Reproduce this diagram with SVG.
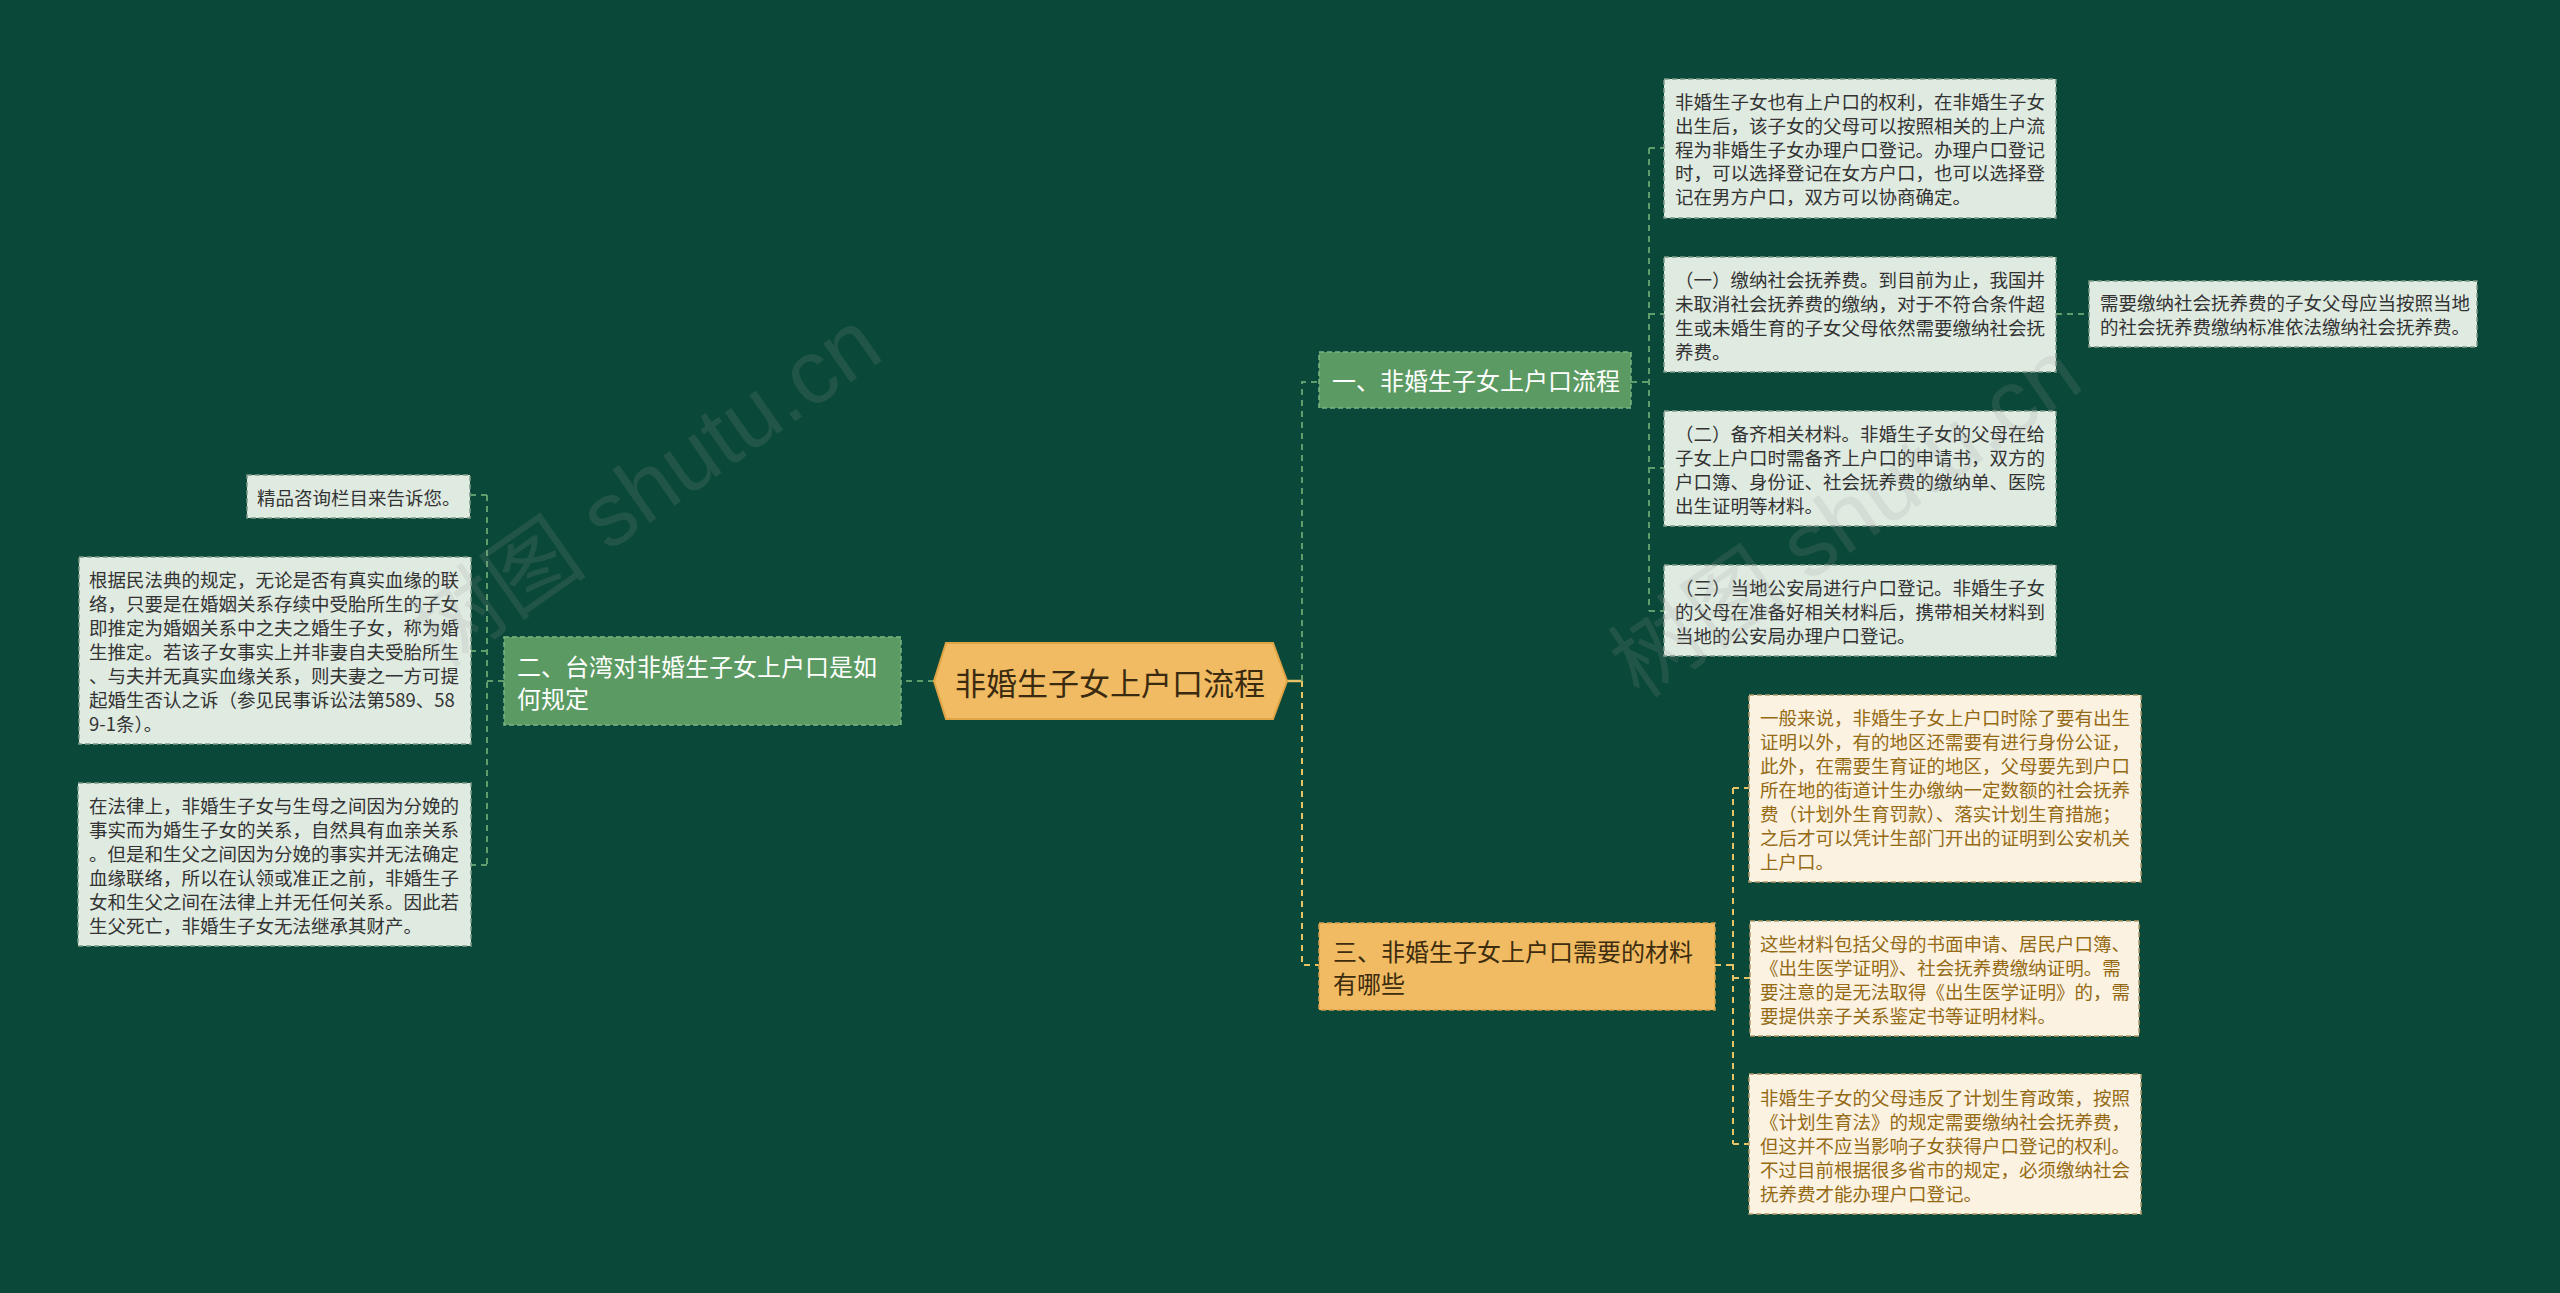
<svg xmlns="http://www.w3.org/2000/svg" width="2560" height="1293" viewBox="0 0 2560 1293">
<style>
text{font-family:"Noto Sans CJK SC","Noto Sans",sans-serif;}
.bg{fill:#0a4839;}
.leaf{fill:#dfeae1;stroke:#7f9a88;stroke-width:1.5;stroke-dasharray:5 3;}
.leaft{font-size:18.5px;fill:#333333;dominant-baseline:central;}
.yleaf{fill:#fcf2e2;stroke:#b09a6a;stroke-width:1.5;stroke-dasharray:5 3;}
.yleaft{font-size:18.5px;fill:#946a14;dominant-baseline:central;}
.gbr{fill:#5b9a62;stroke:#7cb583;stroke-width:1.5;stroke-dasharray:5 3;}
.gbrt{font-size:24px;fill:#ffffff;dominant-baseline:central;}
.ybr{fill:#f0bb62;stroke:#d7a14a;stroke-width:1.5;stroke-dasharray:5 3;}
.ybrt{font-size:24px;fill:#3d2c0e;dominant-baseline:central;}
.gc{fill:none;stroke:#5f9e6c;stroke-width:2;stroke-dasharray:6 5;}
.yc{fill:none;stroke:#e6c465;stroke-width:2;stroke-dasharray:6 5;}
.wm{font-family:"Liberation Sans","Noto Sans CJK SC",sans-serif;font-size:90px;fill:#9a9a9a;opacity:0.16;}
</style>
<rect class="bg" x="0" y="0" width="2560" height="1293"/>

<g id="connectors">
  <line x1="934" y1="681" x2="901" y2="681" class="gc"/>
  <path class="gc" d="M504 681 H487 M487 495 V865 M487 495 H471 M487 651 H471 M487 865 H471"/>
  <line x1="1287" y1="681" x2="1302" y2="681" stroke="#e6c465" stroke-width="2.5"/>
  <path class="gc" d="M1302 681 V382 H1319"/>
  <path class="yc" d="M1302 681 V965 H1319"/>
  <path class="gc" d="M1631 382 H1649 M1649 148 V611 M1649 148 H1664 M1649 314 H1664 M1649 468 H1664 M1649 611 H1664 M2056 314 H2089"/>
  <path class="yc" d="M1715 965 H1733 M1733 788 V1144 M1733 788 H1749 M1733 978 H1750 M1733 1144 H1749"/>
</g>

<g id="root">
  <polygon points="934,681 946,643 1273,643 1287,681 1273,719 946,719" fill="#f0bb62" stroke="#e0a445" stroke-width="2"/>
  <text x="1110" y="681" text-anchor="middle" font-size="31" fill="#3a2a10" dominant-baseline="central">非婚生子女上户口流程</text>
</g>

<g id="b1">
  <rect class="gbr" x="1319" y="352" width="312" height="56"/>
  <text class="gbrt" x="1332" y="379">一、非婚生子女上户口流程</text>
</g>

<g id="b2">
  <rect class="gbr" x="504" y="637" width="397" height="88"/>
  <text class="gbrt" x="517"><tspan x="517" y="665">二、台湾对非婚生子女上户口是如</tspan><tspan x="517" y="697">何规定</tspan></text>
</g>

<g id="b3">
  <rect class="ybr" x="1319" y="923" width="396" height="87"/>
  <text class="ybrt" x="1333"><tspan x="1333" y="950">三、非婚生子女上户口需要的材料</tspan><tspan x="1333" y="982">有哪些</tspan></text>
</g>

<g id="c1">
  <rect class="leaf" x="1664" y="79" width="392" height="139"/>
  <text class="leaft"><tspan x="1675" y="101">非婚生子女也有上户口的权利，在非婚生子女</tspan><tspan x="1675" y="125">出生后，该子女的父母可以按照相关的上户流</tspan><tspan x="1675" y="148.5">程为非婚生子女办理户口登记。办理户口登记</tspan><tspan x="1675" y="172">时，可以选择登记在女方户口，也可以选择登</tspan><tspan x="1675" y="196">记在男方户口，双方可以协商确定。</tspan></text>
</g>

<g id="c2">
  <rect class="leaf" x="1664" y="257" width="392" height="115"/>
  <text class="leaft"><tspan x="1675" y="279">（一）缴纳社会抚养费。到目前为止，我国并</tspan><tspan x="1675" y="303">未取消社会抚养费的缴纳，对于不符合条件超</tspan><tspan x="1675" y="327">生或未婚生育的子女父母依然需要缴纳社会抚</tspan><tspan x="1675" y="351">养费。</tspan></text>
</g>

<g id="c2a">
  <rect class="leaf" x="2089" y="281" width="388" height="66"/>
  <text class="leaft"><tspan x="2100" y="302">需要缴纳社会抚养费的子女父母应当按照当地</tspan><tspan x="2100" y="326">的社会抚养费缴纳标准依法缴纳社会抚养费。</tspan></text>
</g>

<g id="c3">
  <rect class="leaf" x="1664" y="411" width="392" height="115"/>
  <text class="leaft"><tspan x="1675" y="433">（二）备齐相关材料。非婚生子女的父母在给</tspan><tspan x="1675" y="457">子女上户口时需备齐上户口的申请书，双方的</tspan><tspan x="1675" y="481">户口簿、身份证、社会抚养费的缴纳单、医院</tspan><tspan x="1675" y="505">出生证明等材料。</tspan></text>
</g>

<g id="c4">
  <rect class="leaf" x="1664" y="565" width="392" height="91"/>
  <text class="leaft"><tspan x="1675" y="587">（三）当地公安局进行户口登记。非婚生子女</tspan><tspan x="1675" y="611">的父母在准备好相关材料后，携带相关材料到</tspan><tspan x="1675" y="635">当地的公安局办理户口登记。</tspan></text>
</g>

<g id="c5">
  <rect class="yleaf" x="1749" y="695" width="392" height="187"/>
  <text class="yleaft"><tspan x="1760" y="716.5">一般来说，非婚生子女上户口时除了要有出生</tspan><tspan x="1760" y="740.5">证明以外，有的地区还需要有进行身份公证，</tspan><tspan x="1760" y="764.5">此外，在需要生育证的地区，父母要先到户口</tspan><tspan x="1760" y="788.5">所在地的街道计生办缴纳一定数额的社会抚养</tspan><tspan x="1760" y="812.5">费（计划外生育罚款）、落实计划生育措施；</tspan><tspan x="1760" y="836.5">之后才可以凭计生部门开出的证明到公安机关</tspan><tspan x="1760" y="860.5">上户口。</tspan></text>
</g>

<g id="c6">
  <rect class="yleaf" x="1750" y="921" width="389" height="115"/>
  <text class="yleaft"><tspan x="1760" y="943">这些材料包括父母的书面申请、居民户口簿、</tspan><tspan x="1760" y="967">《出生医学证明》、社会抚养费缴纳证明。需</tspan><tspan x="1760" y="991">要注意的是无法取得《出生医学证明》的，需</tspan><tspan x="1760" y="1015">要提供亲子关系鉴定书等证明材料。</tspan></text>
</g>

<g id="c7">
  <rect class="yleaf" x="1749" y="1074" width="392" height="140"/>
  <text class="yleaft"><tspan x="1760" y="1097">非婚生子女的父母违反了计划生育政策，按照</tspan><tspan x="1760" y="1121">《计划生育法》的规定需要缴纳社会抚养费，</tspan><tspan x="1760" y="1145">但这并不应当影响子女获得户口登记的权利。</tspan><tspan x="1760" y="1169">不过目前根据很多省市的规定，必须缴纳社会</tspan><tspan x="1760" y="1193">抚养费才能办理户口登记。</tspan></text>
</g>

<g id="l1">
  <rect class="leaf" x="247" y="475" width="223" height="43"/>
  <text class="leaft" x="257" y="497">精品咨询栏目来告诉您。</text>
</g>

<g id="l2">
  <rect class="leaf" x="79" y="557" width="392" height="187"/>
  <text class="leaft"><tspan x="89" y="579">根据民法典的规定，无论是否有真实血缘的联</tspan><tspan x="89" y="603">络，只要是在婚姻关系存续中受胎所生的子女</tspan><tspan x="89" y="627">即推定为婚姻关系中之夫之婚生子女，称为婚</tspan><tspan x="89" y="651">生推定。若该子女事实上并非妻自夫受胎所生</tspan><tspan x="89" y="675">、与夫并无真实血缘关系，则夫妻之一方可提</tspan><tspan x="89" y="699">起婚生否认之诉（参见民事诉讼法第589、58</tspan><tspan x="89" y="723">9-1条）。</tspan></text>
</g>

<g id="l3">
  <rect class="leaf" x="78" y="783" width="393" height="163"/>
  <text class="leaft"><tspan x="89" y="805">在法律上，非婚生子女与生母之间因为分娩的</tspan><tspan x="89" y="829">事实而为婚生子女的关系，自然具有血亲关系</tspan><tspan x="89" y="853">。但是和生父之间因为分娩的事实并无法确定</tspan><tspan x="89" y="877">血缘联络，所以在认领或准正之前，非婚生子</tspan><tspan x="89" y="901">女和生父之间在法律上并无任何关系。因此若</tspan><tspan x="89" y="925">生父死亡，非婚生子女无法继承其财产。</tspan></text>
</g>

<g id="watermark">
  <text class="wm" x="440" y="670" transform="rotate(-35 440 670)">树图 shutu.cn</text>
  <text class="wm" x="1640" y="700" transform="rotate(-35 1640 700)">树图 shutu.cn</text>
</g>
</svg>
